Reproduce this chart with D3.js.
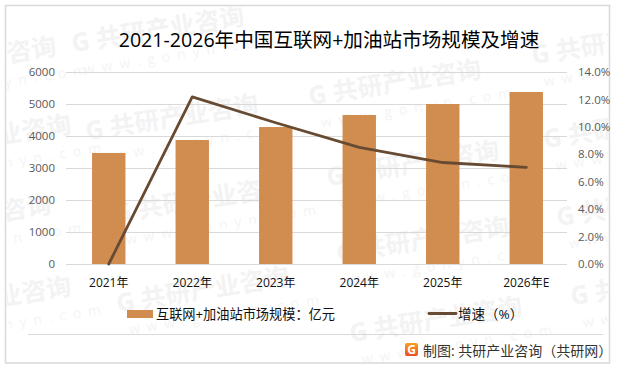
<!DOCTYPE html>
<html>
<head>
<meta charset="utf-8">
<script src="https://cdn.jsdelivr.net/npm/d3@7"></script>
<style>
html,body{margin:0;padding:0;background:#fff;}
svg{display:block;}
text{font-family:"Open Sans","Noto Sans CJK SC",sans-serif;}
</style>
</head>
<body>
<svg id="graf" width="618" height="370"></svg>
<script>
var anni = ["2021年","2022年","2023年","2024年","2025年","2026年E"];
var mercato = [3470,3875,4280,4656,5000,5375];
var crescita = [0,12.18,10.3,8.5,7.4,7.05];
var tickSx = [0,1000,2000,3000,4000,5000,6000];
var tickDx = [0,2,4,6,8,10,12,14];
var filigrana = [[73,52],[87,140],[115,222],[118,312],[310,105],[328,186],[338,262],[351,342],[533,64],[545,148],[558,226],[572,305],[-115,82],[-100,160],[-120,240],[-100,322]];

var width = 618, height = 370;
var svg = d3.select("#graf");

//sfondo e bordo
svg.append("rect")
    .attr("x",5.5).attr("y",5.5)
    .attr("width",604).attr("height",357.5)
    .attr("fill","#fff")
    .attr("stroke","#d9d9d9")
    .attr("stroke-width",1.5);

//filigrana
svg.append("clipPath").attr("id","cornice")
    .append("rect").attr("x",6).attr("y",6).attr("width",603).attr("height",356);
var wm = svg.append("g").attr("clip-path","url(#cornice)").selectAll("g")
    .data(filigrana)
    .enter()
    .append("g")
    .attr("transform",function(d){return "translate("+d[0]+","+d[1]+") rotate(-9)";});
wm.append("text")
    .attr("font-size",25)
    .attr("font-weight","bold")
    .attr("fill","#f3f3f3")
    .text("G 共研产业咨询");
wm.append("text")
    .attr("x",8).attr("y",24)
    .attr("font-size",14)
    .attr("letter-spacing","7px")
    .attr("fill","#f4f4f4")
    .text("www.gonyn.com");

var x = d3.scaleBand().domain(anni).range([67,568]).paddingInner(0.6).paddingOuter(0.3);
var y = d3.scaleLinear().domain([0,6000]).range([264,72]);
var y2 = d3.scaleLinear().domain([0,14]).range([264,72]);

//griglia
svg.append("g")
    .selectAll("line")
    .data(tickSx)
    .enter()
    .append("line")
    .attr("x1",66).attr("x2",567)
    .attr("y1",function(d){return y(d)+0.5;})
    .attr("y2",function(d){return y(d)+0.5;})
    .attr("stroke","#d9d9d9");

//barre
svg.append("g")
    .selectAll("rect")
    .data(mercato)
    .enter()
    .append("rect")
    .attr("x",function(d,i){return x(anni[i]);})
    .attr("y",function(d){return y(d);})
    .attr("width",x.bandwidth())
    .attr("height",function(d){return y(0)-y(d);})
    .attr("fill","#d18c4f");

//linea
var linea = d3.line()
    .x(function(d,i){return x(anni[i])+x.bandwidth()/2;})
    .y(function(d){return y2(d);});
svg.append("path")
    .attr("d",linea(crescita))
    .attr("fill","none")
    .attr("stroke","#674a32")
    .attr("stroke-width",2.8)
    .attr("stroke-linecap","round")
    .attr("stroke-linejoin","round");

//assi
var axL = svg.append("g")
    .attr("transform","translate(66,0)")
    .call(d3.axisLeft(y).tickValues(tickSx).tickSize(0).tickPadding(11).tickFormat(d3.format("d")));
var axR = svg.append("g")
    .attr("transform","translate(567,0)")
    .call(d3.axisRight(y2).tickValues(tickDx).tickSize(0).tickPadding(11).tickFormat(function(d){return d.toFixed(1)+"%";}));
var axB = svg.append("g")
    .attr("transform","translate(0,264)")
    .call(d3.axisBottom(x).tickSize(0).tickPadding(14));
svg.selectAll(".domain").remove();
axL.selectAll("text").attr("font-size",11.5).attr("fill","#595959");
axR.selectAll("text").attr("font-size",11.5).attr("fill","#595959");
axB.selectAll("text").attr("font-size",12).attr("fill","#111");
axL.attr("font-family",null);axR.attr("font-family",null);axB.attr("font-family",null);

//titolo
svg.append("text")
    .attr("x",329).attr("y",47)
    .attr("text-anchor","middle")
    .attr("font-size",19.6)
    .attr("fill","#000")
    .text("2021-2026年中国互联网+加油站市场规模及增速");

//legenda
svg.append("rect").attr("x",127).attr("y",310).attr("width",26).attr("height",8).attr("fill","#d18c4f");
svg.append("text").attr("x",156).attr("y",319).attr("font-size",13.2).attr("fill","#111").text("互联网+加油站市场规模：亿元");
svg.append("line").attr("x1",429).attr("x2",456).attr("y1",313.5).attr("y2",313.5).attr("stroke","#674a32").attr("stroke-width",2.8).attr("stroke-linecap","round");
svg.append("text").attr("x",458).attr("y",319).attr("font-size",13.5).attr("fill","#111").text("增速（%）");

//piede
svg.append("line").attr("x1",28).attr("x2",603).attr("y1",334.5).attr("y2",334.5).attr("stroke","#d9d9d9");
var grad = svg.append("linearGradient").attr("id","logo").attr("x1",0).attr("x2",0).attr("y1",0).attr("y2",1);
grad.append("stop").attr("offset","0%").attr("stop-color","#f9a11b");
grad.append("stop").attr("offset","100%").attr("stop-color","#ee4d23");
svg.append("rect").attr("x",405).attr("y",343).attr("width",13).attr("height",13).attr("rx",2).attr("fill","url(#logo)");
svg.append("text").attr("x",411.5).attr("y",354).attr("text-anchor","middle").attr("font-size",12).attr("font-weight","bold").attr("fill","#fff").text("G");
svg.append("text").attr("x",423).attr("y",356).attr("font-size",14).attr("fill","#333").text("制图: 共研产业咨询（共研网）");
</script>
</body>
</html>
